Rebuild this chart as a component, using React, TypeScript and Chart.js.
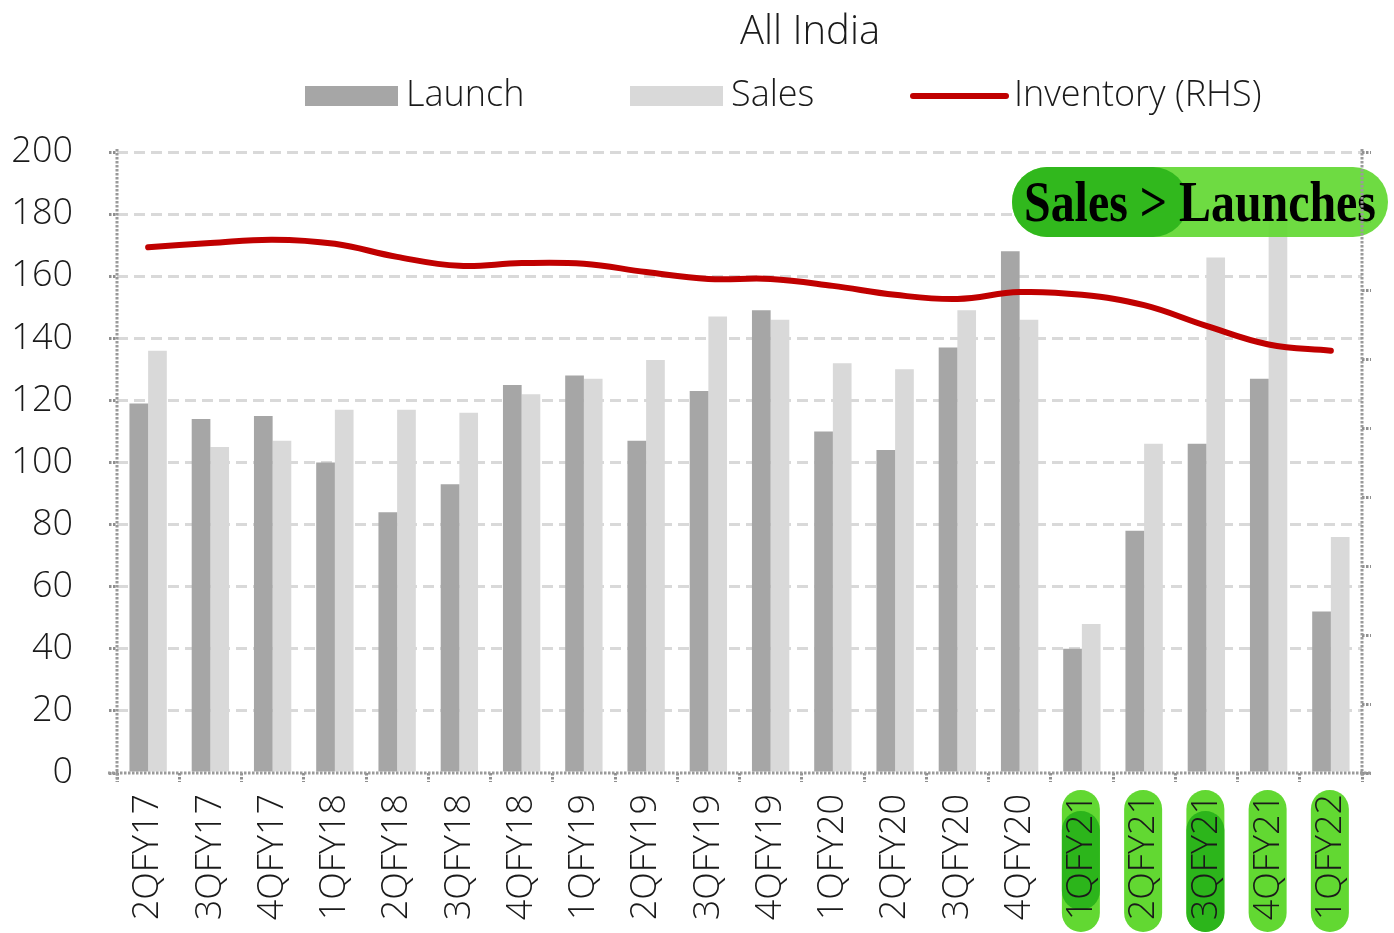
import React, { useEffect, useRef } from "react";
import { Chart, registerables } from "chart.js";

Chart.register(...registerables);

// ---- data ----
const categories = [
  "2QFY17", "3QFY17", "4QFY17", "1QFY18", "2QFY18", "3QFY18", "4QFY18",
  "1QFY19", "2QFY19", "3QFY19", "4QFY19", "1QFY20", "2QFY20", "3QFY20",
  "4QFY20", "1QFY21", "2QFY21", "3QFY21", "4QFY21", "1QFY22",
];
const launch = [119, 114, 115, 100, 84, 93, 125, 128, 107, 123, 149, 110, 104, 137, 168, 40, 78, 106, 127, 52];
const sales = [136, 105, 107, 117, 117, 116, 122, 127, 133, 147, 146, 132, 130, 149, 146, 48, 106, 166, 179, 76];
// inventory on the (unlabelled) right-hand axis
const inventory = [762, 768, 773, 767, 748, 735, 739, 738, 726, 716, 716, 706, 693, 687, 697, 693, 678, 648, 621, 612];

const leftTickValues = [0, 20, 40, 60, 80, 100, 120, 140, 160, 180, 200];
const rightTickValues = [0, 100, 200, 300, 400, 500, 600, 700, 800, 900];

const highlightLabels = ["1QFY21", "2QFY21", "3QFY21", "4QFY21", "1QFY22"];
const strongLabels = ["1QFY21", "3QFY21"];

const titleText = "All India";
const calloutText = "Sales > Launches";

const FONT = "'Open Sans', 'Noto Sans', sans-serif";
const TEXT = "#1a1a1a";
const LAUNCH_C = "#a6a6a6";
const SALES_C = "#d9d9d9";
const INV_C = "#c00000";
const GREEN_L = "#62d832";
const GREEN_D = "#2cb51b";

function pill(ctx: CanvasRenderingContext2D, x: number, y: number, w: number, h: number) {
  const r = Math.min(w, h) / 2;
  ctx.beginPath();
  ctx.moveTo(x + r, y);
  ctx.lineTo(x + w - r, y);
  ctx.arc(x + w - r, y + r, r, -Math.PI / 2, Math.PI / 2);
  ctx.lineTo(x + r, y + h);
  ctx.arc(x + r, y + r, r, Math.PI / 2, (3 * Math.PI) / 2);
  ctx.closePath();
}

function vpill(ctx: CanvasRenderingContext2D, cx: number, y1: number, y2: number, w: number) {
  const r = w / 2;
  ctx.beginPath();
  ctx.moveTo(cx - r, y2 - r);
  ctx.lineTo(cx - r, y1 + r);
  ctx.arc(cx, y1 + r, r, Math.PI, 0);
  ctx.lineTo(cx + r, y2 - r);
  ctx.arc(cx, y2 - r, r, 0, Math.PI);
  ctx.closePath();
}

const decor = {
  id: "decor",
  beforeDraw(chart: any) {
    const { ctx, chartArea, scales } = chart;
    const xs = scales.x;
    ctx.save();
    // highlighted category labels
    categories.forEach((c, i) => {
      if (!highlightLabels.includes(c)) return;
      const cx = xs.getPixelForValue(i) - 1;
      ctx.fillStyle = GREEN_L;
      vpill(ctx, cx, chartArea.bottom + 17, chartArea.bottom + 159, 38);
      ctx.fill();
      if (strongLabels.includes(c)) {
        ctx.fillStyle = GREEN_D;
        const end = c === strongLabels[0] ? chartArea.bottom + 137 : chartArea.bottom + 159;
        vpill(ctx, cx, chartArea.bottom + 38, end, 38);
        ctx.fill();
      }
    });

    // title
    ctx.fillStyle = TEXT;
    ctx.font = `300 40px ${FONT}`;
    ctx.textAlign = "center";
    ctx.textBaseline = "middle";
    ctx.fillText(titleText, 810, 33);

    // legend
    const ds = chart.data.datasets;
    const legendX = [305, 630, 910];
    const cy = 96;
    ctx.font = `300 36px ${FONT}`;
    ctx.textAlign = "left";
    ds.forEach((d: any, i: number) => {
      const x = legendX[i];
      if (d.type === "line") {
        ctx.strokeStyle = d.borderColor;
        ctx.lineWidth = 6;
        ctx.lineCap = "round";
        ctx.beginPath();
        ctx.moveTo(x + 3, cy);
        ctx.lineTo(x + 96, cy);
        ctx.stroke();
        ctx.fillStyle = TEXT;
        ctx.fillText(d.label, x + 104, cy);
      } else {
        ctx.fillStyle = d.backgroundColor;
        ctx.fillRect(x, cy - 10, 93, 20);
        ctx.fillStyle = TEXT;
        ctx.fillText(d.label, x + 101, cy);
      }
    });
    ctx.restore();
  },
  afterDatasetsDraw(chart: any) {
    const { ctx, chartArea } = chart;
    ctx.save();
    const x0 = chartArea.right - 350;
    const x1 = chartArea.right + 26;
    const y0 = chartArea.top + 15;
    const h = 70;
    ctx.globalAlpha = 0.92;
    ctx.fillStyle = GREEN_L;
    pill(ctx, x0, y0, x1 - x0, h);
    ctx.fill();
    ctx.fillStyle = GREEN_D;
    pill(ctx, x0, y0, 176, h);
    ctx.fill();
    ctx.globalAlpha = 1;
    ctx.fillStyle = "#000";
    ctx.font = `bold 56px 'Liberation Serif', 'DejaVu Serif', serif`;
    ctx.textAlign = "center";
    ctx.textBaseline = "alphabetic";
    const w = ctx.measureText(calloutText).width;
    const sx = 352 / w;
    ctx.translate((x0 + x1) / 2, y0 + 54);
    ctx.scale(sx, 1);
    ctx.fillText(calloutText, 0, 0);
    ctx.restore();
  },
  afterDraw(chart: any) {
    const { ctx, chartArea } = chart;
    const { left, right, top, bottom } = chartArea;
    ctx.save();
    ctx.strokeStyle = "#9a9a9a";
    ctx.lineWidth = 3;
    ctx.setLineDash([2.5, 1.5]);
    ctx.beginPath();
    ctx.moveTo(left, top - 3);
    ctx.lineTo(left, bottom + 9);
    ctx.moveTo(left - 9, bottom);
    ctx.lineTo(right + 9, bottom);
    ctx.moveTo(right, top - 3);
    ctx.lineTo(right, bottom + 3);
    ctx.stroke();
    ctx.restore();
  },
};

const dottedTick = {
  tickColor: "#8f8f8f",
  tickWidth: 3,
  tickBorderDash: [2.5, 1.5],
};

export default function App() {
  const ref = useRef<HTMLCanvasElement | null>(null);

  useEffect(() => {
    if (!ref.current) return;
    const chart = new Chart(ref.current, {
      type: "bar",
      data: {
        labels: categories,
        datasets: [
          {
            type: "bar",
            label: "Launch",
            data: launch,
            backgroundColor: LAUNCH_C,
            yAxisID: "y",
            categoryPercentage: 0.6,
            barPercentage: 1.0,
            order: 2,
          },
          {
            type: "bar",
            label: "Sales",
            data: sales,
            backgroundColor: SALES_C,
            yAxisID: "y",
            categoryPercentage: 0.6,
            barPercentage: 1.0,
            order: 2,
          },
          {
            type: "line",
            label: "Inventory (RHS)",
            data: inventory,
            borderColor: INV_C,
            backgroundColor: INV_C,
            borderWidth: 6,
            borderCapStyle: "round",
            tension: 0.4,
            pointRadius: 0,
            yAxisID: "y1",
            order: 1,
          },
        ],
      } as any,
      options: {
        responsive: false,
        devicePixelRatio: 1,
        animation: false,
        layout: { padding: { top: 152, left: 0, right: 0, bottom: 0 } },
        plugins: {
          legend: { display: false },
          title: { display: false },
          tooltip: { enabled: false },
        },
        scales: {
          x: {
            grid: { display: true, drawOnChartArea: false, drawTicks: true, tickLength: 9, offset: true, ...dottedTick },
            border: { display: false },
            ticks: {
              autoSkip: false,
              minRotation: 90,
              maxRotation: 90,
              padding: 12,
              color: TEXT,
              font: { family: FONT, size: 36, weight: "300" },
            },
            afterFit: (s: any) => { s.height = 160; },
          },
          y: {
            position: "left",
            min: 0,
            max: 200,
            afterBuildTicks: (s: any) => { s.ticks = leftTickValues.map((v) => ({ value: v })); },
            grid: {
              color: (c: any) => (c.tick && c.tick.value === 0 ? "rgba(0,0,0,0)" : "#d9d9d9"),
              lineWidth: 3,
              drawTicks: true,
              tickLength: 8,
              ...dottedTick,
            },
            border: { display: false, dash: [11, 6] },
            ticks: {
              padding: 36,
              color: TEXT,
              font: { family: FONT, size: 36, weight: "300" },
            },
            afterFit: (s: any) => { s.width = 117; },
          },
          y1: {
            position: "right",
            min: 0,
            max: 900,
            afterBuildTicks: (s: any) => { s.ticks = rightTickValues.map((v) => ({ value: v })); },
            grid: { drawOnChartArea: false, drawTicks: true, tickLength: 9, ...dottedTick },
            border: { display: false },
            ticks: { display: false },
            afterFit: (s: any) => { s.width = 32; },
          },
        },
      } as any,
      plugins: [decor],
    });
    return () => chart.destroy();
  }, []);

  return (
    <div style={{ position: "absolute", left: 0, top: 0, width: 1394, height: 933, background: "#fff" }}>
      <canvas ref={ref} width={1394} height={933} style={{ display: "block" }} />
    </div>
  );
}
